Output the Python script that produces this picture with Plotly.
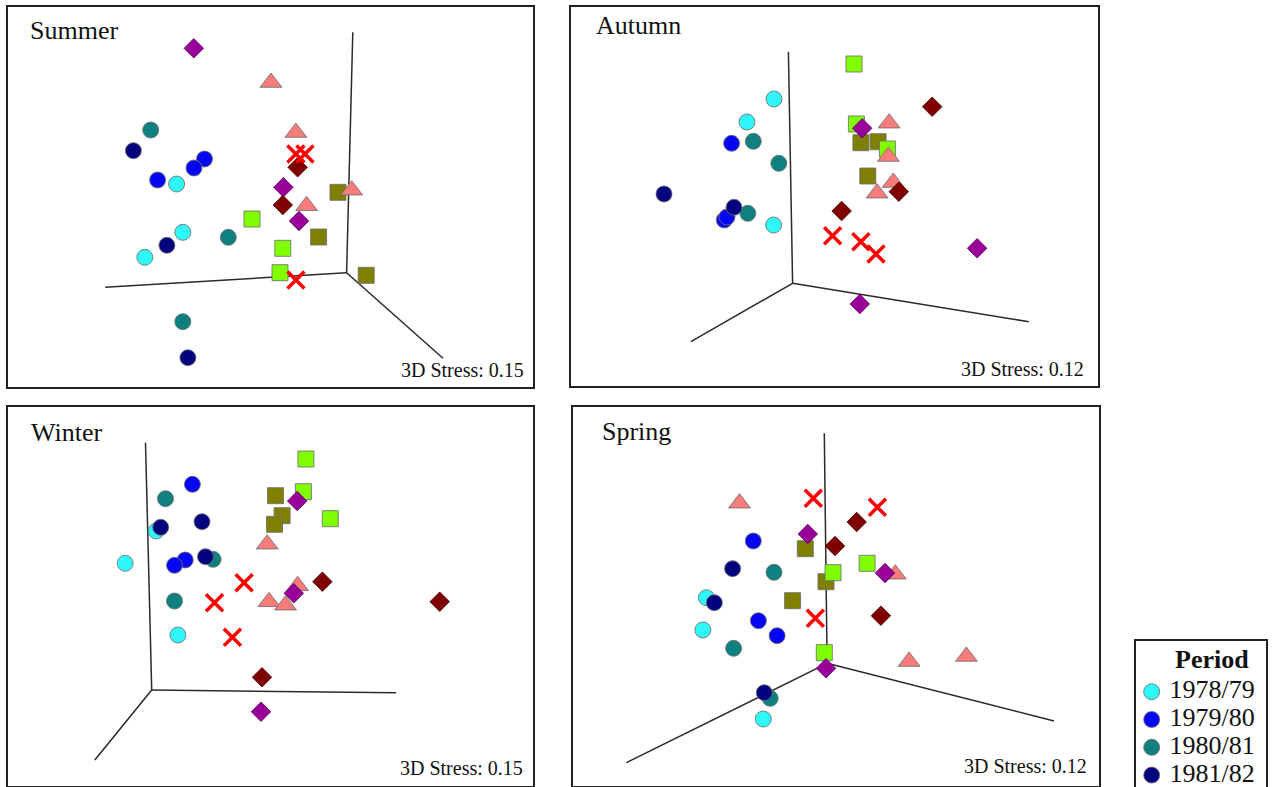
import plotly.graph_objects as go

FIG_W, FIG_H = 1275, 787

# ---- legend entries shown in the "Period" box ----
PERIODS = ["1978/79", "1979/80", "1980/81", "1981/82"]

# ---- group keys: four circle periods plus six symbol groups ----
GROUP_KEYS = ["1978/79", "1979/80", "1980/81", "1981/82",
              "olive", "lime", "salmon", "purple", "maroon", "cross"]

# ---- MDS ordination scores (panel units) per season ----
summer = {
    "1980/81": [(142.7, 257.0), (220.3, 149.7), (174.8, 65.3)],
    "1981/82": [(125.4, 236.3), (158.9, 141.7), (179.9, 29.3)],
    "1979/80": [(196.5, 228.0), (186.0, 219.0), (149.6, 207.0)],
    "1978/79": [(168.6, 203.0), (174.8, 154.7), (136.8, 129.7)],
    "olive":   [(330.0, 194.7), (310.6, 150.0), (358.2, 111.7)],
    "lime":    [(244.0, 168.0), (274.8, 138.7), (272.0, 114.3)],
    "salmon":  [(263.0, 304.5), (287.9, 254.5), (298.6, 181.2), (343.7, 196.8)],
    "purple":  [(185.8, 338.7), (275.4, 199.7), (291.0, 166.0)],
    "maroon":  [(289.6, 219.7), (274.8, 182.0)],
    "cross":   [(287.9, 233.0), (297.0, 233.0), (287.9, 107.0)],
}

autumn = {
    "1980/81": [(182.3, 244.7), (207.8, 222.7), (176.8, 172.7)],
    "1981/82": [(93.0, 192.0), (163.0, 178.7)],
    "1979/80": [(160.6, 242.7), (153.3, 166.0), (156.0, 169.0)],
    "1978/79": [(203.0, 287.0), (176.0, 264.0), (202.6, 161.0)],
    "olive":   [(289.9, 243.3), (307.1, 244.3), (296.8, 210.0)],
    "lime":    [(283.0, 322.0), (285.4, 262.0), (316.4, 237.0)],
    "salmon":  [(318.1, 262.8), (317.4, 229.5), (322.3, 203.5), (306.1, 192.8)],
    "purple":  [(291.2, 257.7), (406.1, 137.7), (288.8, 82.0)],
    "maroon":  [(361.2, 279.3), (327.8, 194.3), (270.6, 175.0)],
    "cross":   [(261.6, 150.3), (289.9, 144.3), (305.0, 132.0)],
}

winter = {
    "1980/81": [(157.5, 287.3), (205.1, 226.7), (166.5, 185.0)],
    "1981/82": [(152.7, 258.7), (194.0, 264.3), (197.5, 229.3)],
    "1979/80": [(184.4, 301.7), (177.2, 226.0), (166.5, 220.7)],
    "1978/79": [(117.2, 222.7), (148.2, 255.0), (169.9, 151.0)],
    "olive":   [(267.5, 290.3), (274.1, 270.3), (266.5, 261.7)],
    "lime":    [(297.9, 327.0), (295.4, 294.3), (322.3, 267.3)],
    "salmon":  [(259.2, 241.8), (289.6, 200.2), (261.0, 184.2), (277.5, 180.8)],
    "purple":  [(289.2, 285.0), (285.8, 192.7), (253.0, 74.3)],
    "maroon":  [(314.4, 204.3), (431.7, 184.3), (254.0, 108.7)],
    "cross":   [(236.1, 203.3), (206.5, 183.3), (224.4, 148.7)],
}

spring = {
    "1980/81": [(201.0, 213.7), (160.6, 137.7), (197.2, 87.7)],
    "1981/82": [(159.6, 217.3), (141.3, 183.3), (191.3, 93.3)],
    "1979/80": [(180.3, 245.0), (185.4, 165.3), (204.1, 150.3)],
    "1978/79": [(133.4, 188.3), (129.9, 156.0), (190.3, 67.0)],
    "olive":   [(232.3, 237.3), (253.0, 204.3), (219.6, 185.3)],
    "lime":    [(294.1, 222.7), (260.0, 213.3), (251.3, 133.3)],
    "salmon":  [(166.5, 282.8), (322.3, 211.8), (336.1, 124.5), (393.4, 129.5)],
    "purple":  [(234.8, 252.0), (312.0, 213.0), (253.0, 117.7)],
    "maroon":  [(283.7, 264.0), (262.0, 240.0), (307.9, 170.3)],
    "cross":   [(240.3, 287.7), (304.4, 278.7), (242.3, 167.7)],
}

# ---- projected 3D axis frame: origin then the three axis ends ----
summer_frame = [(338.6, 114.3), (344.8, 354.7), (97.2, 99.7), (435.0, 28.7)]
autumn_frame = [(221.6, 102.7), (217.4, 334.3), (457.8, 64.3), (119.9, 44.3)]
winter_frame = [(143.7, 96.0), (137.5, 343.3), (387.9, 93.3), (86.8, 26.0)]
spring_frame = [(254.1, 122.7), (251.3, 352.7), (481.0, 65.0), (53.4, 23.3)]

SEASONS = ["Summer", "Autumn", "Winter", "Spring"]
STRESS = [0.15, 0.12, 0.15, 0.12]

# ---- styling ----
SERIF = "Liberation Serif, Times New Roman, serif"
EDGE = "rgba(110,110,110,0.85)"
STYLE = {
    "1978/79": dict(symbol="circle", size=16, color="#2EF8F8", line=dict(color=EDGE, width=1)),
    "1979/80": dict(symbol="circle", size=16, color="#0505F5", line=dict(color=EDGE, width=1)),
    "1980/81": dict(symbol="circle", size=16, color="#0E8080", line=dict(color=EDGE, width=1)),
    "1981/82": dict(symbol="circle", size=16, color="#030380", line=dict(color=EDGE, width=1)),
    "olive":   dict(symbol="square", size=16, color="#808000", line=dict(color=EDGE, width=1)),
    "lime":    dict(symbol="square", size=16, color="#80FF00", line=dict(color=EDGE, width=1)),
    "salmon":  dict(symbol="triangle-up", size=19, color="#F87C7A", line=dict(color=EDGE, width=1)),
    "purple":  dict(symbol="diamond", size=15, color="#990099", line=dict(color="rgba(90,0,90,0.8)", width=1)),
    "maroon":  dict(symbol="diamond", size=15, color="#800000", line=dict(color="rgba(70,0,0,0.8)", width=1)),
    "cross":   dict(symbol="x-thin", size=17, color="#FF0000", line=dict(color="#FF0000", width=3.5)),
}

# panel boxes on the page: (left, top, right, bottom) in px
BOXES = [(8, 7, 533, 387), (571, 7, 1098, 386), (8, 407, 533, 786), (573, 407, 1099, 786)]
TITLE_POS = [(20, 357), (23, 361), (21, 354), (26.5, 355)]
STRESS_POS = [(518, 17), (515, 17), (517, 18), (516, 20)]

season_data = [summer, autumn, winter, spring]
season_frames = [summer_frame, autumn_frame, winter_frame, spring_frame]

fig = go.Figure()
layout = dict(
    width=FIG_W, height=FIG_H,
    margin=dict(l=0, r=0, t=0, b=0),
    paper_bgcolor="white", plot_bgcolor="white",
    showlegend=False,
    font=dict(family=SERIF, color="#111111"),
    annotations=[],
)

axis_common = dict(showgrid=False, zeroline=False, showticklabels=False, ticks="",
                   showline=True, mirror=True, linecolor="#222222", linewidth=1.5,
                   fixedrange=True)

for i, (name, data, frame, box) in enumerate(zip(SEASONS, season_data, season_frames, BOXES)):
    n = i + 1
    xa, ya = ("x" if n == 1 else f"x{n}"), ("y" if n == 1 else f"y{n}")
    left, top, right, bottom = box
    w, h = right - left, bottom - top
    layout[f"xaxis{'' if n == 1 else n}"] = dict(
        axis_common, domain=[left / FIG_W, right / FIG_W], range=[0, w], anchor=ya)
    layout[f"yaxis{'' if n == 1 else n}"] = dict(
        axis_common, domain=[(FIG_H - bottom) / FIG_H, (FIG_H - top) / FIG_H],
        range=[0, h], anchor=xa)

    # axis frame of the 3D projection
    o = frame[0]
    fx, fy = [], []
    for end in frame[1:]:
        fx += [o[0], end[0], None]
        fy += [o[1], end[1], None]
    fig.add_trace(go.Scatter(x=fx, y=fy, mode="lines", xaxis=xa, yaxis=ya,
                             line=dict(color="#2a2a2a", width=1.5), hoverinfo="skip"))

    # sample points, one trace per group
    for key in GROUP_KEYS:
        pts = data.get(key, [])
        if not pts:
            continue
        fig.add_trace(go.Scatter(
            x=[p[0] for p in pts], y=[p[1] for p in pts], mode="markers",
            name=key, xaxis=xa, yaxis=ya, marker=STYLE[key]))

    tx, ty = TITLE_POS[i]
    layout["annotations"].append(dict(
        text=name, x=tx, y=ty, xref=xa, yref=ya, xanchor="left", yanchor="middle",
        showarrow=False, font=dict(family=SERIF, size=26, color="#111111")))
    sx, sy = STRESS_POS[i]
    layout["annotations"].append(dict(
        text=f"3D Stress: {STRESS[i]:.2f}", x=sx, y=sy, xref=xa, yref=ya,
        xanchor="right", yanchor="middle", showarrow=False,
        font=dict(family=SERIF, size=20, color="#111111")))

# ---- "Period" legend box (runs off the bottom of the page) ----
LEG_LEFT, LEG_TOP, LEG_RIGHT = 1136, 641, 1266
leg_w, leg_h = LEG_RIGHT - LEG_LEFT, FIG_H - LEG_TOP
layout["xaxis5"] = dict(showgrid=False, zeroline=False, showticklabels=False, ticks="",
                        showline=True, mirror=False, side="top", linecolor="#222222",
                        linewidth=1.5, fixedrange=True,
                        domain=[LEG_LEFT / FIG_W, LEG_RIGHT / FIG_W], range=[0, leg_w],
                        anchor="y5")
layout["yaxis5"] = dict(showgrid=False, zeroline=False, showticklabels=False, ticks="",
                        showline=True, mirror=True, linecolor="#222222", linewidth=1.5,
                        fixedrange=True, domain=[0, leg_h / FIG_H], range=[0, leg_h],
                        anchor="x5")

ENTRY_TOP, ENTRY_STEP = 95.3, 27.8
entry_y = [ENTRY_TOP - k * ENTRY_STEP for k in range(len(PERIODS))]
for k, period in enumerate(PERIODS):
    st = dict(STYLE[period])
    st["size"] = 16
    fig.add_trace(go.Scatter(x=[15.7], y=[entry_y[k]], mode="markers", xaxis="x5",
                             yaxis="y5", marker=st, hoverinfo="skip"))
fig.add_trace(go.Scatter(x=[33.5] * len(PERIODS), y=entry_y, mode="text", text=PERIODS,
                         textposition="middle right", xaxis="x5", yaxis="y5",
                         textfont=dict(family=SERIF, size=26, color="#111111"),
                         hoverinfo="skip"))
layout["annotations"].append(dict(
    text="<b>Period</b>", x=leg_w / 2 + 10.5, y=128, xref="x5", yref="y5",
    xanchor="center", yanchor="middle", showarrow=False,
    font=dict(family=SERIF, size=26, color="#111111")))

fig.update_layout(**layout)
fig.write_html("out.html")
